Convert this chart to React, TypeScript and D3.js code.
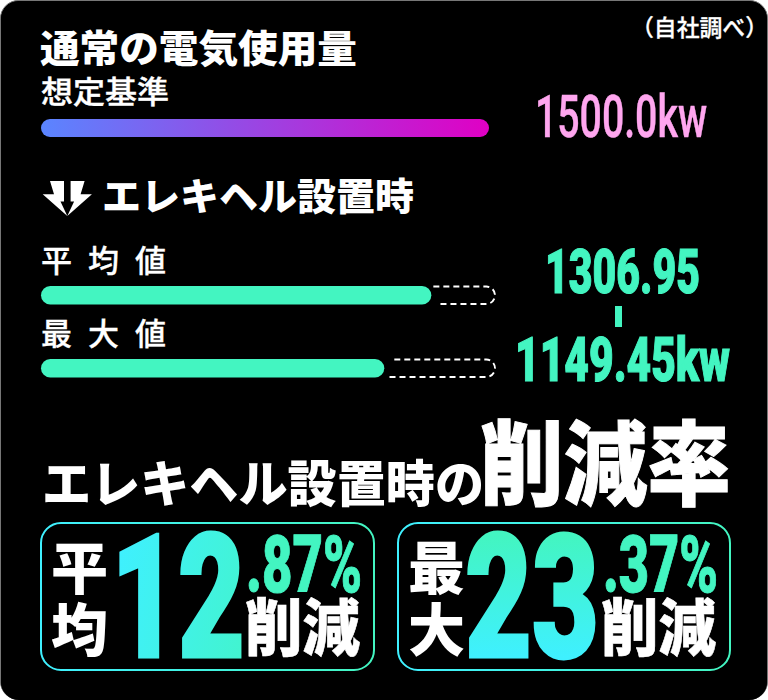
import React from "react";
import * as d3 from "d3";

const baselineValue = 1500;
const measureLabels = ["平均値", "最大値"];
const measureValues = [1306.95, 1149.45];
const valueTexts = ["1306.95", "1149.45kw"];
const reductionLabels = [["平", "均"], ["最", "大"]];
const reductionWhole = ["12", "23"];
const reductionFrac = [".87%", ".37%"];

const JP = "'Noto Sans CJK JP', sans-serif";
const NUM = "Roboto, sans-serif";
const MINT = "#43f5c1";

const x = d3.scaleLinear().domain([0, baselineValue]).range([41, 489]);

type TProps = { x: number; y: number; w: number; fs: number; fw: number; fill?: string; font?: string; sw?: number; children: React.ReactNode };
function T({ x, y, w, fs, fw, fill = "#fff", font = JP, sw = 0, children }: TProps) {
  return (
    <text x={x} y={y} fontSize={fs} fontWeight={fw} fontFamily={font} fill={fill} stroke={sw ? fill : "none"} strokeWidth={sw} textLength={w} lengthAdjust="spacingAndGlyphs">
      {children}
    </text>
  );
}

function ghostPath(startTop: number, startBottom: number, top: number, bottom: number) {
  const p = d3.path();
  const right = x(baselineValue) + 6;
  const r = (bottom - top) / 2;
  p.moveTo(startTop, top);
  p.lineTo(right - r, top);
  p.arcTo(right, top, right, top + r, r);
  p.arcTo(right, bottom, right - r, bottom, r);
  p.lineTo(startBottom, bottom);
  return p.toString();
}

const barYs = [286, 359];
const labelYs = [272, 345];
const ghostStarts = [[2, 7], [10, 5]];
const cards = [
  { left: 41, right: 374, labelX: 51, wholeX: 111, wholeW: 134, fracX: 246, fracW: 116, cutX: 245, fill: "url(#numA)" },
  { left: 398, right: 730, labelX: 408, wholeX: 465, wholeW: 134, fracX: 603, fracW: 115, cutX: 601, fill: "url(#numB)" },
];

export default function App() {
  const iconLeft = [[50, 181], [64, 181], [64, 201.5], [60.5, 201.5], [67.3, 216], [42.7, 194.3], [54, 194.3]];
  const iconRight = iconLeft.map(([px, py]) => [134.6 - px, py]);
  return (
    <svg width={768} height={700} viewBox="0 0 768 700" style={{ position: "absolute", left: 0, top: 0, display: "block" }}>
      <defs>
        <linearGradient id="purple" x1="0" x2="1" y1="0" y2="0">
          <stop offset="0" stopColor="#5a85ff" />
          <stop offset="1" stopColor="#e000c4" />
        </linearGradient>
        <linearGradient id="frame" x1="0" x2="1" y1="0" y2="0">
          <stop offset="0" stopColor="#3ff0ff" />
          <stop offset="1" stopColor={MINT} />
        </linearGradient>
        <linearGradient id="numA" gradientUnits="userSpaceOnUse" x1="115" y1="560" x2="300" y2="600">
          <stop offset="0" stopColor="#3ff0ff" />
          <stop offset="1" stopColor={MINT} />
        </linearGradient>
        <linearGradient id="numB" gradientUnits="userSpaceOnUse" x1="0" y1="535" x2="0" y2="658">
          <stop offset="0" stopColor={MINT} />
          <stop offset="1" stopColor="#3ff0ff" />
        </linearGradient>
      </defs>

      <rect width={768} height={700} fill="#fff" />
      <rect x={0.5} y={0.5} width={767} height={699} rx={18} fill="#000" stroke="#777" strokeWidth={1} />
      <rect x={1} y={1.5} width={766} height={698.5} rx={18} fill="#000" />

      <T x={631} y={36} w={137} fs={23} fw={500} sw={0.3}>（自社調べ）</T>
      <T x={40} y={62} w={317} fs={38} fw={900}>通常の電気使用量</T>
      <T x={41} y={103} w={128} fs={31} fw={500} sw={0.4}>想定基準</T>
      <rect x={x(0)} y={119} width={x(baselineValue) - x(0)} height={18} rx={9} fill="url(#purple)" />
      <T x={535} y={137} w={172} fs={60} fw={500} font={NUM} fill="#ffa6ef" sw={0.5}>1500.0kw</T>

      <polygon points={iconLeft.join(" ")} fill="#fff" />
      <polygon points={iconRight.join(" ")} fill="#fff" />
      <T x={102} y={210} w={312} fs={38} fw={900}>エレキヘル設置時</T>

      {measureLabels.map((label, i) => (
        <g key={label}>
          {Array.from(label).map((ch, j) => (
            <text key={j} x={41 + j * 47} y={labelYs[i]} fontSize={31} fontWeight={500} fontFamily={JP} fill="#fff" stroke="#fff" strokeWidth={0.3}>{ch}</text>
          ))}
          <rect x={x(0)} y={barYs[i]} width={x(measureValues[i]) - x(0)} height={18.5} rx={9.25} fill={MINT} />
          <path
            d={ghostPath(x(measureValues[i]) + ghostStarts[i][0], x(measureValues[i]) + ghostStarts[i][1], barYs[i] + 0.5, barYs[i] + 18)}
            fill="none" stroke="#fff" strokeWidth={1.9} strokeDasharray="6 4"
          />
        </g>
      ))}

      <T x={545} y={293} w={155} fs={62} fw={900} font={NUM} fill={MINT} sw={1.2}>{valueTexts[0]}</T>
      <rect x={615} y={306} width={7} height={21} fill={MINT} />
      <T x={515} y={381} w={215} fs={62} fw={900} font={NUM} fill={MINT} sw={1.2}>{valueTexts[1]}</T>

      <T x={42} y={502} w={442} fs={50} fw={900}>エレキヘル設置時の</T>
      <T x={480} y={498} w={251} fs={92} fw={900} sw={1}>削減率</T>

      {cards.map((c, i) => (
        <g key={c.left}>
          <rect x={c.left} y={523} width={c.right - c.left} height={147} rx={20} fill="none" stroke="url(#frame)" strokeWidth={2} />
          <text x={c.labelX} y={589} fontSize={57} fontWeight={900} fontFamily={JP} fill="#fff">{reductionLabels[i][0]}</text>
          <text x={c.labelX} y={651} fontSize={57} fontWeight={900} fontFamily={JP} fill="#fff">{reductionLabels[i][1]}</text>
          <T x={c.wholeX} y={657} w={c.wholeW} fs={173} fw={900} font={NUM} fill={c.fill} sw={3}>{reductionWhole[i]}</T>
          <T x={c.fracX} y={592} w={c.fracW} fs={80} fw={900} font={NUM} fill={MINT} sw={1}>{reductionFrac[i]}</T>
          <T x={c.cutX} y={651} w={115} fs={62} fw={900} sw={0.6}>削減</T>
        </g>
      ))}
    </svg>
  );
}
